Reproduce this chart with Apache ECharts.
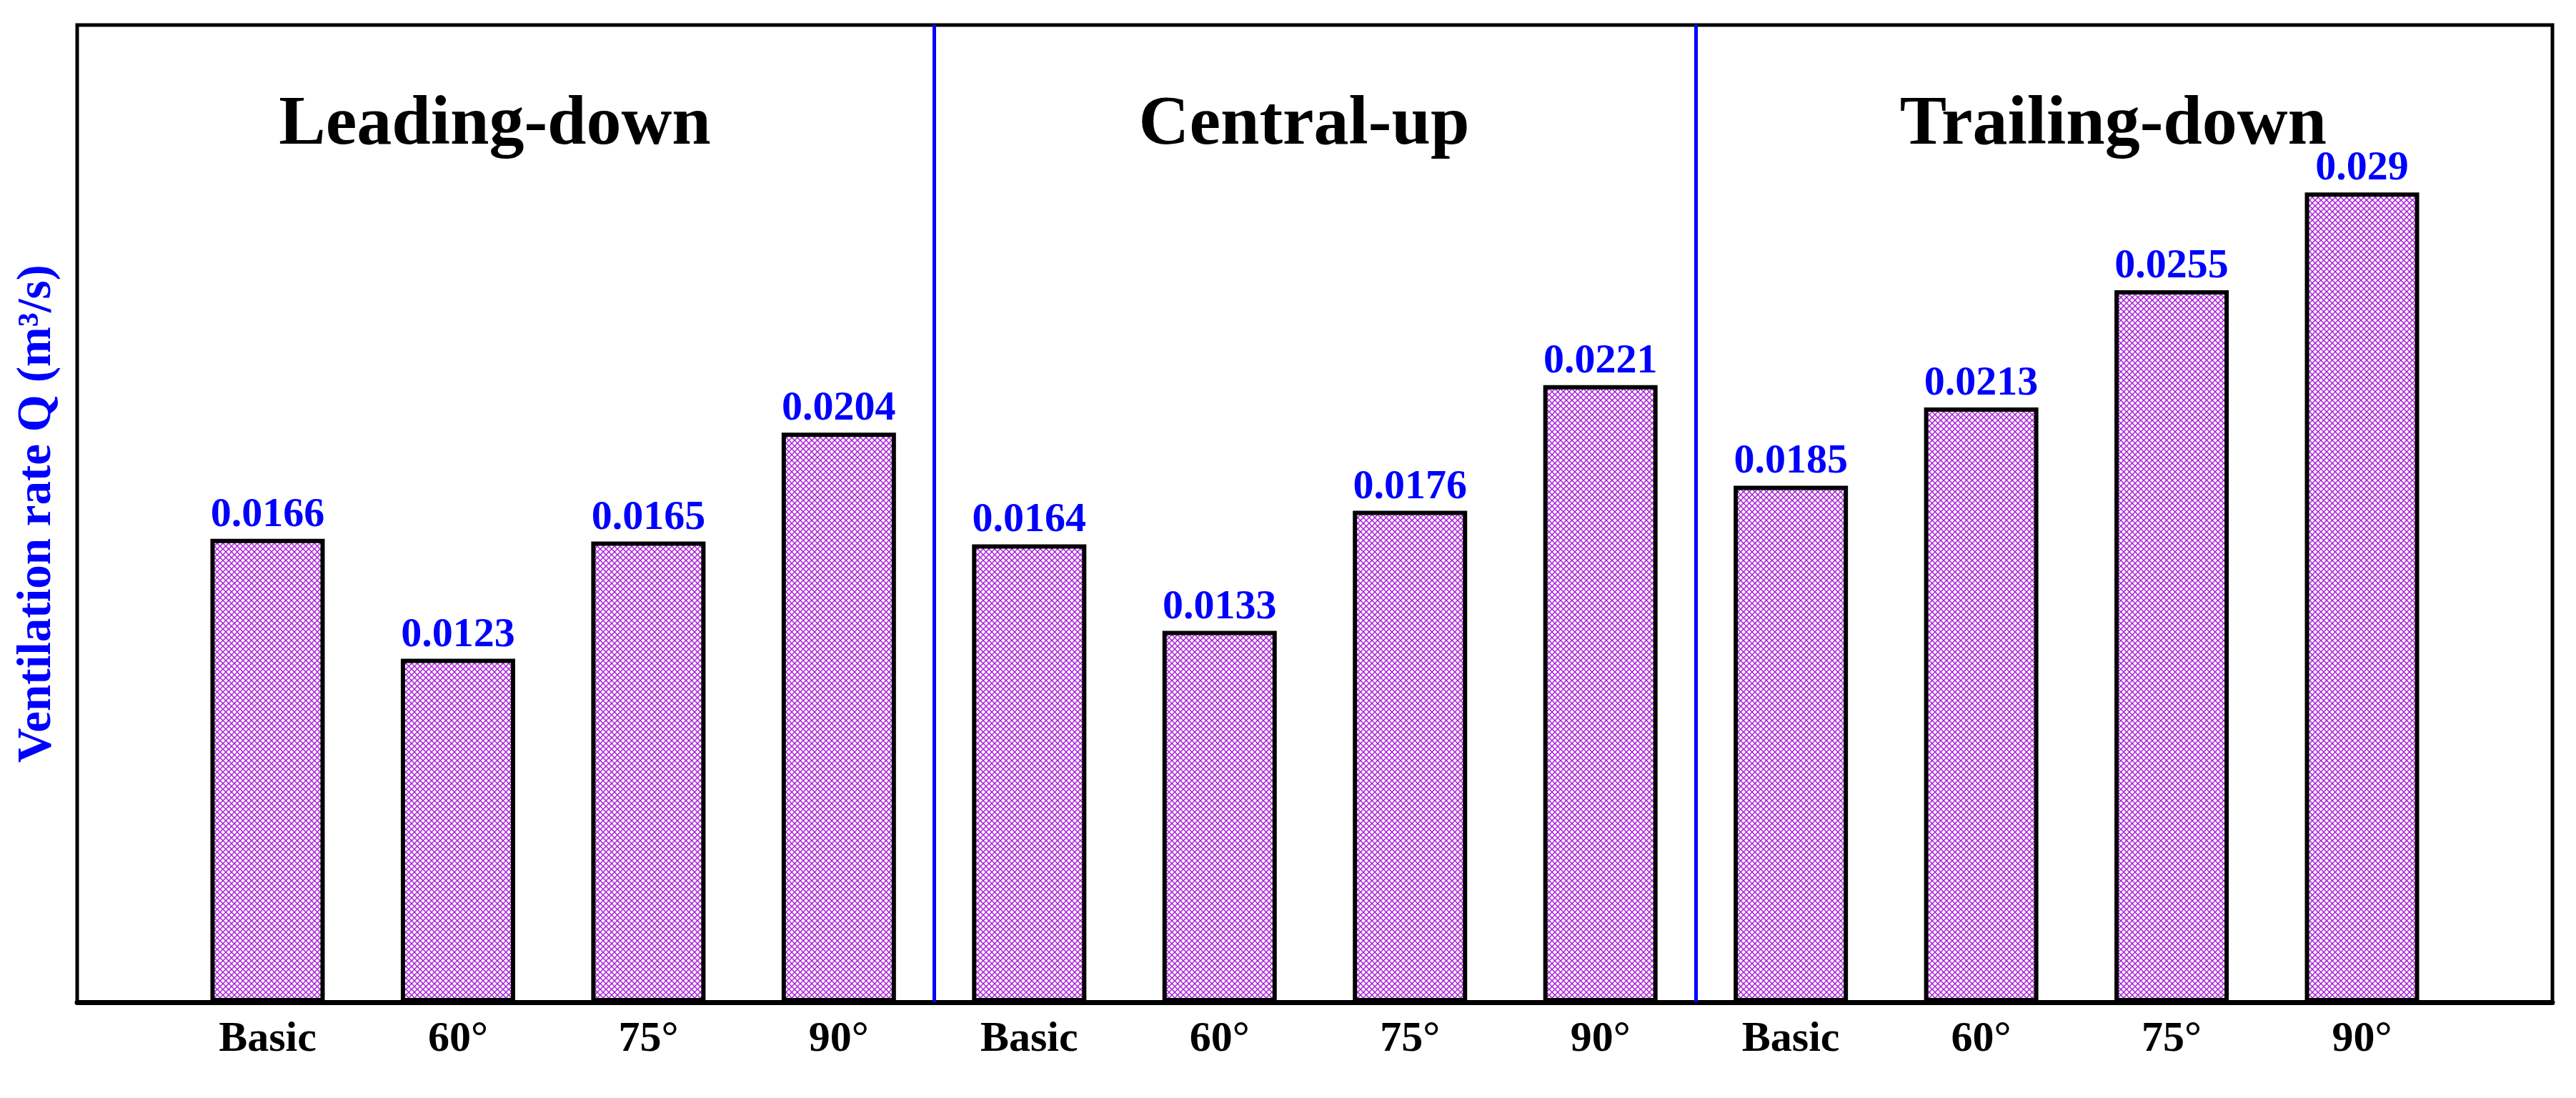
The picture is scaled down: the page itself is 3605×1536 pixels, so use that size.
<!DOCTYPE html>
<html>
<head>
<meta charset="utf-8">
<script src="https://cdn.jsdelivr.net/npm/echarts@6/dist/echarts.min.js"></script>
<style>
  html, body { margin: 0; padding: 0; background: #fff; }
  #chart { width: 3605px; height: 1536px; }
</style>
</head>
<body>
<div id="chart"></div>
<script>
// layout groups of the x axis
var groups = ['Leading-down', 'Central-up', 'Trailing-down']
var categories = ['Basic', '60°', '75°', '90°', 'Basic', '60°', '75°', '90°', 'Basic', '60°', '75°', '90°']
// ventilation rate Q (m3/s)
var rates = [0.0166, 0.0123, 0.0165, 0.0204, 0.0164, 0.0133, 0.0176, 0.0221, 0.0185, 0.0213, 0.0255, 0.029]

var FONT = 'Liberation Serif'

// crosshatch fill for the bars
function hatch() {
  var c = document.createElement('canvas')
  c.width = 8
  c.height = 8
  var ctx = c.getContext('2d')
  ctx.fillStyle = '#fff'
  ctx.fillRect(0, 0, 8, 8)
  ctx.strokeStyle = 'rgba(165, 20, 215, 0.95)'
  ctx.lineWidth = 1.5
  ctx.beginPath()
  ctx.moveTo(-1, -1); ctx.lineTo(9, 9)
  ctx.moveTo(9, -1); ctx.lineTo(-1, 9)
  ctx.stroke()
  return c
}

var perGroup = categories.length / groups.length
var xMax = categories.length + 1
var bounds = [0]
for (var g = 1; g < groups.length; g++) bounds.push(g * perGroup + 0.5)
bounds.push(xMax)

var chart = echarts.init(document.getElementById('chart'))
chart.setOption({
  animation: false,
  backgroundColor: '#fff',
  grid: {
    left: 108, right: 33, top: 35, bottom: 134,
    show: true, borderColor: '#000', borderWidth: 5, backgroundColor: 'transparent'
  },
  xAxis: {
    type: 'value',
    min: 0,
    max: xMax,
    interval: 1,
    axisLine: { show: true, lineStyle: { color: '#000', width: 7 } },
    axisTick: { show: false },
    splitLine: { show: false },
    axisLabel: {
      margin: 22,
      color: '#000',
      fontFamily: FONT,
      fontWeight: 'bold',
      fontSize: 60,
      formatter: function (v) {
        return categories[v - 1] || ''
      }
    }
  },
  yAxis: {
    type: 'value',
    min: 0,
    max: 0.035,
    name: 'Ventilation rate Q (m³/s)',
    nameLocation: 'middle',
    nameGap: 22,
    nameTextStyle: { color: '#0000ff', fontFamily: FONT, fontWeight: 'bold', fontSize: 67 },
    axisLine: { show: false },
    axisTick: { show: false },
    axisLabel: { show: false },
    splitLine: { show: false }
  },
  series: [{
    type: 'bar',
    barWidth: 160,
    data: rates.map(function (v, i) { return [i + 1, v] }),
    itemStyle: {
      color: { image: hatch(), repeat: 'repeat' },
      borderColor: '#000',
      borderWidth: 6
    },
    label: {
      show: true,
      position: 'top',
      distance: 4,
      color: '#0000ff',
      fontFamily: FONT,
      fontWeight: 'bold',
      fontSize: 58,
      formatter: function (p) { return String(p.value[1]) }
    },
    markLine: {
      silent: true,
      symbol: 'none',
      label: { show: false },
      lineStyle: { color: '#0000ff', width: 5, type: 'solid' },
      data: bounds.slice(1, -1).map(function (b) { return { xAxis: b } })
    },
    markArea: {
      silent: true,
      itemStyle: { color: 'transparent' },
      label: {
        show: true,
        position: 'insideTop',
        distance: 92,
        offset: [-15, 0],
        color: '#000',
        fontFamily: FONT,
        fontWeight: 'bold',
        fontSize: 98
      },
      data: groups.map(function (name, i) {
        return [{ name: name, xAxis: bounds[i] }, { xAxis: bounds[i + 1] }]
      })
    }
  }]
})
</script>
</body>
</html>
